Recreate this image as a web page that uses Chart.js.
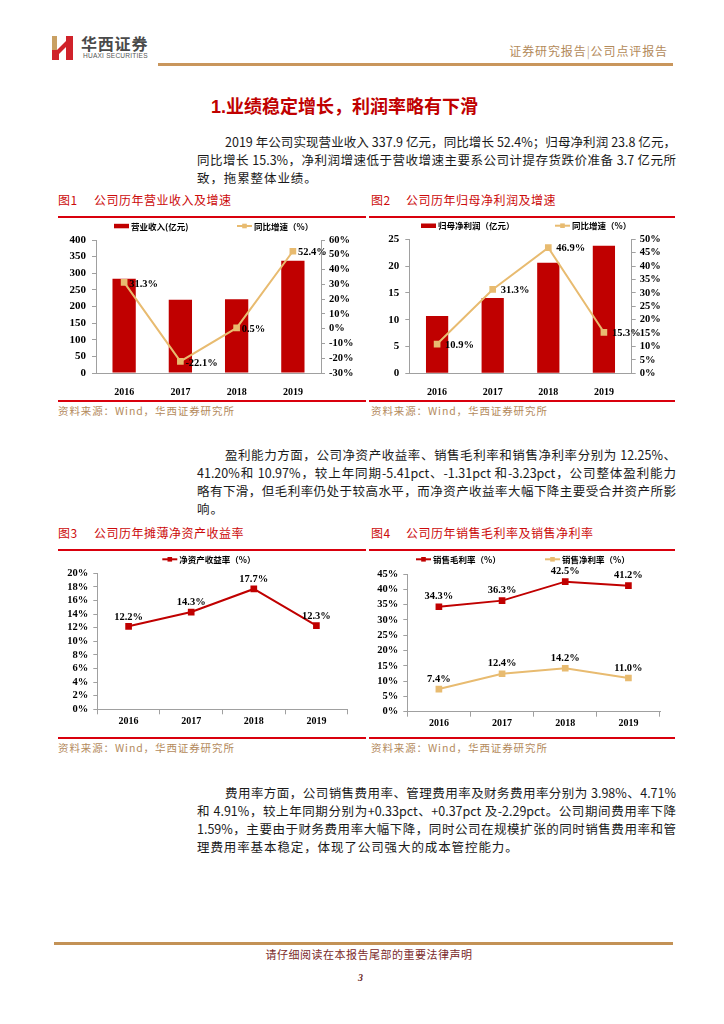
<!DOCTYPE html>
<html><head><meta charset="utf-8">
<script src="https://cdn.jsdelivr.net/npm/chart.js@4.4.1/dist/chart.umd.min.js"></script>
<style>
html,body{margin:0;padding:0;background:#fff;}
body{width:724px;height:1024px;position:relative;overflow:hidden;font-family:"Noto Sans CJK SC",sans-serif;}
.abs{position:absolute;white-space:nowrap;}
.rule{position:absolute;height:2px;background:#d9000d;}
.gold{position:absolute;background:#c9965c;}
.ptxt{position:absolute;left:197px;width:479px;font-size:12.5px;line-height:18px;height:18px;white-space:nowrap;text-align:justify;text-align-last:justify;color:#1a1a1a;font-family:"Liberation Sans Narrow","Noto Sans CJK SC",sans-serif;}
.ptxt.first{left:225px;width:451px;}
.ptxt.last{text-align:left;text-align-last:left;letter-spacing:0.9px;width:auto;}
.ftitle{position:absolute;font-size:12px;line-height:16px;color:#cc0a0a;white-space:nowrap;letter-spacing:0.5px;}
.src{position:absolute;font-size:10.5px;line-height:14px;color:#b48a5c;letter-spacing:0.9px;white-space:nowrap;}
.cbox{position:absolute;}
</style></head>
<body>
<!-- header -->
<svg class="abs" style="left:51px;top:35px" width="24" height="26" viewBox="0 0 24 26">
  <rect x="1" y="1" width="5" height="14" fill="#c9a063"/>
  <rect x="1" y="15" width="7" height="10" fill="#d0222a"/>
  <polygon points="6,15 15,6 15,12 8,19" fill="#d0222a"/>
  <rect x="15" y="1" width="7" height="24" fill="#d0222a"/>
</svg>
<div class="abs" style="left:81px;top:34px;font-size:16px;line-height:18px;font-weight:700;color:#4a4a4a;letter-spacing:0.8px;">华西证券</div>
<div class="abs" style="left:83px;top:52px;font-size:6.6px;line-height:8px;color:#555;font-family:'Liberation Sans',sans-serif;letter-spacing:0.2px;">HUAXI SECURITIES</div>
<div class="abs" style="right:56px;top:42px;font-size:12px;line-height:17px;color:#b38a5a;letter-spacing:0.9px;">证券研究报告<span style="font-weight:300">|</span>公司点评报告</div>
<div class="gold" style="left:158px;top:63px;width:515px;height:2.5px;"></div>

<div class="abs" style="left:211px;top:94px;font-size:18px;line-height:22px;font-weight:700;color:#c00000;"><span style="font-family:'Liberation Sans',sans-serif;">1.</span>业绩稳定增长，利润率略有下滑</div>

<div class="ptxt first" style="top:133px;">2019 年公司实现营业收入 337.9 亿元，同比增长 52.4%；归母净利润 23.8 亿元，</div>
<div class="ptxt" style="top:151px;">同比增长 15.3%，净利润增速低于营收增速主要系公司计提存货跌价准备 3.7 亿元所</div>
<div class="ptxt last" style="top:169px;">致，拖累整体业绩。</div>

<!-- figure 1 / 2 titles -->
<div class="ftitle" style="left:58px;top:192px;">图1</div>
<div class="ftitle" style="left:94px;top:192px;">公司历年营业收入及增速</div>
<div class="ftitle" style="left:371px;top:192px;">图2</div>
<div class="ftitle" style="left:406px;top:192px;">公司历年归母净利润及增速</div>
<div class="rule" style="left:58px;top:216px;width:308px;"></div>
<div class="rule" style="left:369px;top:216px;width:306px;"></div>

<div class="cbox" style="left:57px;top:218px;width:309px;height:180px;"><canvas id="c1"></canvas></div>
<div class="cbox" style="left:369px;top:218px;width:306px;height:180px;"><canvas id="c2"></canvas></div>

<div class="rule" style="left:58px;top:400px;width:308px;"></div>
<div class="rule" style="left:369px;top:400px;width:306px;"></div>
<div class="src" style="left:58px;top:404px;">资料来源：Wind，华西证券研究所</div>
<div class="src" style="left:371px;top:404px;">资料来源：Wind，华西证券研究所</div>

<div class="ptxt first" style="top:446px;">盈利能力方面，公司净资产收益率、销售毛利率和销售净利率分别为 12.25%、</div>
<div class="ptxt" style="top:464px;">41.20%和 10.97%，较上年同期-5.41pct、-1.31pct 和-3.23pct，公司整体盈利能力</div>
<div class="ptxt" style="top:482px;">略有下滑，但毛利率仍处于较高水平，而净资产收益率大幅下降主要受合并资产所影</div>
<div class="ptxt last" style="top:500px;">响。</div>

<!-- figure 3 / 4 -->
<div class="ftitle" style="left:58px;top:525px;">图3</div>
<div class="ftitle" style="left:94px;top:525px;">公司历年摊薄净资产收益率</div>
<div class="ftitle" style="left:371px;top:525px;">图4</div>
<div class="ftitle" style="left:406px;top:525px;">公司历年销售毛利率及销售净利率</div>
<div class="rule" style="left:58px;top:548.5px;width:308px;"></div>
<div class="rule" style="left:369px;top:548.5px;width:306px;"></div>

<div class="cbox" style="left:57px;top:551px;width:309px;height:185px;"><canvas id="c3"></canvas></div>
<div class="cbox" style="left:369px;top:551px;width:306px;height:185px;"><canvas id="c4"></canvas></div>

<div class="rule" style="left:58px;top:737px;width:308px;"></div>
<div class="rule" style="left:369px;top:737px;width:306px;"></div>
<div class="src" style="left:58px;top:741px;">资料来源：Wind，华西证券研究所</div>
<div class="src" style="left:371px;top:741px;">资料来源：Wind，华西证券研究所</div>

<div class="ptxt first" style="top:784px;">费用率方面，公司销售费用率、管理费用率及财务费用率分别为 3.98%、4.71%</div>
<div class="ptxt" style="top:802px;">和 4.91%，较上年同期分别为+0.33pct、+0.37pct 及-2.29pct。公司期间费用率下降</div>
<div class="ptxt" style="top:820px;">1.59%，主要由于财务费用率大幅下降，同时公司在规模扩张的同时销售费用率和管</div>
<div class="ptxt last" style="top:838px;">理费用率基本稳定，体现了公司强大的成本管控能力。</div>

<!-- footer -->
<div class="gold" style="left:54px;top:942px;width:619px;height:3px;background:#c39256;"></div>
<div class="abs" style="left:0;width:738px;text-align:center;top:946px;font-size:11px;line-height:16px;color:#7b2a2a;letter-spacing:0.5px;">请仔细阅读在本报告尾部的重要法律声明</div>
<div class="abs" style="left:358px;top:971px;font-size:10px;line-height:14px;color:#6b1f1f;font-weight:700;font-style:italic;font-family:'Liberation Serif',serif;">3</div>

<script>
// ---------------- data ----------------
const years = ['2016', '2017', '2018', '2019'];
const revenue = [283.2, 220.6, 221.7, 337.9];          // 营业收入(亿元)
const revenueGrowth = [31.3, -22.1, 0.5, 52.4];        // 同比增速(%)
const netProfit = [10.70, 14.05, 20.64, 23.8];         // 归母净利润(亿元)
const profitGrowth = [10.9, 31.3, 46.9, 15.3];         // 同比增速(%)
const roe = [12.2, 14.3, 17.7, 12.3];                  // 净资产收益率(%)
const grossMargin = [34.3, 36.3, 42.5, 41.2];          // 销售毛利率(%)
const netMargin = [7.4, 12.4, 14.2, 11.0];             // 销售净利率(%)

const revenueTicks = [0, 50, 100, 150, 200, 250, 300, 350, 400];
const revenueGrowthTicks = [-30, -20, -10, 0, 10, 20, 30, 40, 50, 60];
const profitTicks = [0, 5, 10, 15, 20, 25];
const profitGrowthTicks = [0, 5, 10, 15, 20, 25, 30, 35, 40, 45, 50];
const roeTicks = [0, 2, 4, 6, 8, 10, 12, 14, 16, 18, 20];
const marginTicks = [0, 5, 10, 15, 20, 25, 30, 35, 40, 45];

// ---------------- styles ----------------
const RED = '#c00000';
const GOLD = '#e8bb70';
const AXIS = '#a0a0a0';
const SERIF = '"Liberation Serif", "Times New Roman", serif';
const CJK = '"Noto Sans CJK SC", sans-serif';
Chart.defaults.font.family = SERIF;
Chart.defaults.color = '#000';
Chart.defaults.animation = false;

const customLegend = {
  id: 'customLegend',
  afterDraw(chart, args, opts) {
    if (!opts.items) return;
    const ctx = chart.ctx;
    ctx.save();
    opts.items.forEach(it => {
      const ds = chart.data.datasets[it.dataset];
      const y = opts.y;
      if ((ds.type || chart.config.type) === 'bar') {
        ctx.fillStyle = ds.backgroundColor;
        ctx.fillRect(it.x, y - 2.2, 15, 4.5);
      } else {
        ctx.strokeStyle = ds.borderColor;
        ctx.lineWidth = 2;
        ctx.beginPath();
        ctx.moveTo(it.x, y);
        ctx.lineTo(it.x + 15, y);
        ctx.stroke();
        ctx.fillStyle = ds.pointBackgroundColor || ds.borderColor;
        ctx.fillRect(it.x + 7.5 - 2.3, y - 2.3, 4.6, 4.6);
      }
      ctx.fillStyle = '#000';
      ctx.font = 'bold 8.5px ' + CJK;
      ctx.textBaseline = 'middle';
      ctx.textAlign = 'left';
      ctx.fillText(ds.label, it.x + 17, y + 0.5);
    });
    ctx.restore();
  }
};

const valueLabels = {
  id: 'valueLabels',
  afterDatasetsDraw(chart, args, opts) {
    const ctx = chart.ctx;
    ctx.save();
    ctx.font = 'bold 10.5px ' + SERIF;
    ctx.fillStyle = '#000';
    chart.data.datasets.forEach((ds, i) => {
      if (!ds.valueLabel) return;
      const meta = chart.getDatasetMeta(i);
      meta.data.forEach((pt, j) => {
        const txt = ds.data[j].toFixed(1) + '%';
        if (ds.valueLabel === 'right') {
          ctx.textAlign = 'left';
          ctx.textBaseline = 'middle';
          ctx.fillText(txt, pt.x + opts.dx, pt.y + opts.dy);
        } else {
          ctx.textAlign = 'center';
          ctx.textBaseline = 'middle';
          ctx.fillText(txt, pt.x, pt.y - opts.above);
        }
      });
    });
    ctx.restore();
  }
};

function tickFont(size) { return { family: SERIF, weight: 'bold', size: size }; }

function yAxis(ticksArr, pos, width, pct, pad, fontSize) {
  return {
    position: pos,
    min: ticksArr[0],
    max: ticksArr[ticksArr.length - 1],
    afterBuildTicks: s => { s.ticks = ticksArr.map(v => ({ value: v })); },
    ticks: { font: tickFont(fontSize), color: '#000', padding: pad, autoSkip: false,
             callback: v => pct ? v + '%' : String(v) },
    grid: { drawOnChartArea: false, drawTicks: true, tickLength: 4, color: AXIS },
    border: { color: AXIS, width: 1 },
    afterFit: s => { s.width = width; }
  };
}

// ---------------- chart 1 ----------------
new Chart(document.getElementById('c1'), {
  type: 'bar',
  data: {
    labels: years,
    datasets: [
      { type: 'line', label: '同比增速（%）', data: revenueGrowth, yAxisID: 'y1', order: 0,
        borderColor: GOLD, backgroundColor: GOLD, pointBackgroundColor: GOLD, pointBorderColor: GOLD,
        borderWidth: 2, pointStyle: 'rect', pointRadius: 3.3, tension: 0, valueLabel: 'right' },
      { type: 'bar', label: '营业收入(亿元)', data: revenue, yAxisID: 'y', order: 1,
        backgroundColor: RED, barPercentage: 0.414, categoryPercentage: 1 }
    ]
  },
  options: {
    responsive: true, maintainAspectRatio: false,
    layout: { padding: { top: 22, left: 0, right: 0, bottom: 0 } },
    plugins: {
      legend: { display: false }, tooltip: { enabled: false },
      customLegend: { y: 8, items: [{ dataset: 1, x: 57 }, { dataset: 0, x: 180 }] },
      valueLabels: { dx: 5, dy: 1.5 }
    },
    scales: {
      x: { grid: { display: false }, border: { color: AXIS }, ticks: { font: tickFont(10), color: '#000', padding: 5 },
           afterFit: s => { s.height = 25; } },
      y: yAxis(revenueTicks, 'left', 39, false, 6, 11),
      y1: yAxis(revenueGrowthTicks, 'right', 45, true, 4, 10.5)
    }
  },
  plugins: [customLegend, valueLabels]
});

// ---------------- chart 2 ----------------
new Chart(document.getElementById('c2'), {
  type: 'bar',
  data: {
    labels: years,
    datasets: [
      { type: 'line', label: '同比增速（%）', data: profitGrowth, yAxisID: 'y1', order: 0,
        borderColor: GOLD, backgroundColor: GOLD, pointBackgroundColor: GOLD, pointBorderColor: GOLD,
        borderWidth: 2, pointStyle: 'rect', pointRadius: 3.3, tension: 0, valueLabel: 'right' },
      { type: 'bar', label: '归母净利润（亿元）', data: netProfit, yAxisID: 'y', order: 1,
        backgroundColor: RED, barPercentage: 0.40, categoryPercentage: 1 }
    ]
  },
  options: {
    responsive: true, maintainAspectRatio: false,
    layout: { padding: { top: 21.3, left: 0, right: 0, bottom: 0 } },
    plugins: {
      legend: { display: false }, tooltip: { enabled: false },
      customLegend: { y: 7.7, items: [{ dataset: 1, x: 52 }, { dataset: 0, x: 186 }] },
      valueLabels: { dx: 8, dy: 1 }
    },
    scales: {
      x: { grid: { display: false }, border: { color: AXIS }, ticks: { font: tickFont(10), color: '#000', padding: 5 },
           afterFit: s => { s.height = 24.7; } },
      y: yAxis(profitTicks, 'left', 40.3, false, 6, 11),
      y1: yAxis(profitGrowthTicks, 'right', 43.3, true, 4, 10.5)
    }
  },
  plugins: [customLegend, valueLabels]
});

// ---------------- chart 3 ----------------
function lineX(h) {
  return {
    offset: true,
    grid: { offset: true, drawOnChartArea: false, drawTicks: true, tickLength: 5, color: AXIS },
    border: { color: AXIS },
    ticks: { font: tickFont(10), color: '#000', padding: 1 },
    afterFit: s => { s.height = h; }
  };
}
new Chart(document.getElementById('c3'), {
  type: 'line',
  data: {
    labels: years,
    datasets: [
      { label: '净资产收益率（%）', data: roe, borderColor: RED, backgroundColor: RED,
        pointBackgroundColor: RED, pointBorderColor: RED, borderWidth: 2, pointStyle: 'rect',
        pointRadius: 3.3, tension: 0, valueLabel: 'top' }
    ]
  },
  options: {
    responsive: true, maintainAspectRatio: false,
    layout: { padding: { top: 22.3, left: 0, right: 18.3, bottom: 0 } },
    plugins: {
      legend: { display: false }, tooltip: { enabled: false },
      customLegend: { y: 8.3, items: [{ dataset: 0, x: 105.3 }] },
      valueLabels: { above: 9.5 }
    },
    scales: {
      x: lineX(26.7),
      y: yAxis(roeTicks, 'left', 40.3, true, 5, 10.5)
    }
  },
  plugins: [customLegend, valueLabels]
});

// ---------------- chart 4 ----------------
new Chart(document.getElementById('c4'), {
  type: 'line',
  data: {
    labels: years,
    datasets: [
      { label: '销售毛利率（%）', data: grossMargin, borderColor: RED, backgroundColor: RED,
        pointBackgroundColor: RED, pointBorderColor: RED, borderWidth: 2, pointStyle: 'rect',
        pointRadius: 3.3, tension: 0, valueLabel: 'top' },
      { label: '销售净利率（%）', data: netMargin, borderColor: GOLD, backgroundColor: GOLD,
        pointBackgroundColor: GOLD, pointBorderColor: GOLD, borderWidth: 2, pointStyle: 'rect',
        pointRadius: 3.3, tension: 0, valueLabel: 'top' }
    ]
  },
  options: {
    responsive: true, maintainAspectRatio: false,
    layout: { padding: { top: 23, left: 0, right: 15, bottom: 0 } },
    plugins: {
      legend: { display: false }, tooltip: { enabled: false },
      customLegend: { y: 8.3, items: [{ dataset: 0, x: 47 }, { dataset: 1, x: 176 }] },
      valueLabels: { above: 10 }
    },
    scales: {
      x: lineX(24.3),
      y: yAxis(marginTicks, 'left', 38.3, true, 5, 10.5)
    }
  },
  plugins: [customLegend, valueLabels]
});
</script>
</body></html>
